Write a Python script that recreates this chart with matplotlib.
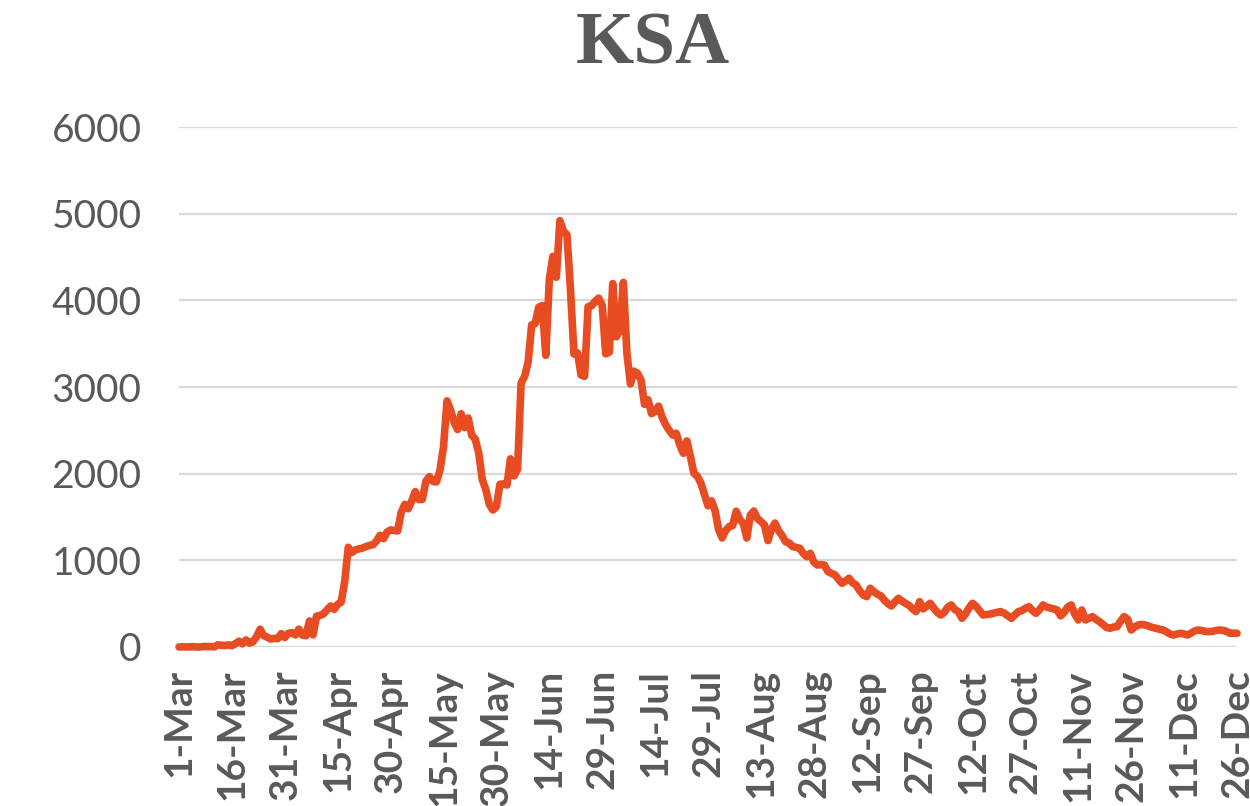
import pandas as pd
import matplotlib
matplotlib.use('Agg')
import matplotlib.pyplot as plt

# daily new cases, 1-Mar to 26-Dec
mar = [0, 1, 0, 0, 4, 0, 0, 6, 4, 5, 1, 24, 20, 17, 24, 15, 38, 67, 36, 81,
       45, 62, 119, 205, 133, 112, 92, 99, 96, 154, 110]
apr = [157, 165, 140, 206, 138, 130, 300, 140, 355, 364, 382, 429, 472, 435, 493,
       518, 762, 1150, 1090, 1120, 1132, 1141, 1158, 1172, 1180, 1223, 1289, 1250, 1325, 1351]
may = [1344, 1340, 1552, 1645, 1595, 1687, 1793, 1701, 1704, 1912, 1966, 1911, 1905, 2039,
       2307, 2840, 2736, 2593, 2509, 2691, 2532, 2642, 2442, 2399, 2235, 1931, 1815, 1644,
       1581, 1618, 1877]
jun = [1881, 1869, 2171, 1975, 2050, 3045, 3121, 3288, 3717, 3733, 3921, 3940, 3366, 4233,
       4507, 4267, 4919, 4800, 4757, 4128, 3379, 3393, 3139, 3123, 3927, 3938, 3989, 4026,
       3943, 3383]
jul = [3402, 4193, 3580, 3650, 4207, 3392, 3036, 3183, 3159, 3081, 2800, 2852, 2692, 2720,
       2779, 2650, 2565, 2500, 2446, 2466, 2331, 2235, 2378, 2201, 2005, 1968, 1889, 1759,
       1629, 1686, 1573]
aug = [1357, 1258, 1342, 1389, 1402, 1567, 1469, 1428, 1257, 1521, 1569, 1482, 1448, 1409,
       1227, 1363, 1430, 1342, 1287, 1215, 1200, 1158, 1150, 1139, 1080, 1042, 1081, 980,
       946, 950, 946]
sep = [870, 850, 831, 780, 735, 760, 793, 740, 716, 650, 600, 581, 677, 640, 610, 590, 540,
       500, 473, 520, 562, 530, 504, 480, 440, 408, 523, 440, 470, 504]
oct = [450, 400, 369, 400, 460, 485, 430, 408, 331, 380, 450, 504, 470, 420, 369, 375, 380,
       390, 400, 408, 390, 360, 331, 370, 408, 420, 446, 465, 420, 389, 430]
nov = [485, 460, 450, 440, 427, 360, 400, 460, 485, 380, 312, 427, 312, 330, 350, 320, 292,
       260, 225, 216, 230, 234, 300, 350, 320, 196, 230, 254, 260, 254]
dec = [240, 225, 216, 205, 196, 175, 150, 138, 150, 158, 150, 138, 160, 185, 196, 190, 180,
       177, 180, 190, 196, 192, 180, 158, 160, 158]

cases = mar + apr + may + jun + jul + aug + sep + oct + nov + dec
dates = pd.date_range('2020-03-01', periods=len(cases), freq='D')
tick_dates = dates[::15]
tick_labels = [f'{d.day}-{d.strftime("%b")}' for d in tick_dates]
y_ticks = [0, 1000, 2000, 3000, 4000, 5000, 6000]

GREY = '#595959'
LINE = '#E84C22'

fig = plt.figure(figsize=(12.5, 8.06), dpi=100)
ax = fig.add_axes([0.1432, 0.1973, 0.8464, 0.6451])

days = list(range(len(cases)))
ax.plot(days, cases, color=LINE, lw=5.5, solid_joinstyle='round', solid_capstyle='round',
        clip_on=False, zorder=3)

ax.set_xlim(0, len(cases) - 1)
ax.set_ylim(0, 6000)
ax.set_yticks(y_ticks)
ax.set_yticklabels([str(v) for v in y_ticks], fontfamily='Lato', fontsize=28, color=GREY)
ax.set_xticks([dates.get_loc(d) for d in tick_dates])
ax.set_xticklabels(tick_labels, rotation=90, fontfamily='Lato', fontweight='bold',
                   fontsize=28, color=GREY)
ax.tick_params(axis='y', length=0, pad=27)
ax.tick_params(axis='x', length=0, pad=16)
ax.grid(axis='y', color='#D9D9D9', lw=1.6)
ax.set_axisbelow(True)
for s in ax.spines.values():
    s.set_visible(False)

fig.text(0.522, 0.944, 'KSA', ha='center', va='center', fontfamily='Liberation Serif',
         fontweight='bold', fontsize=54, color=GREY)

fig.savefig('out.png', dpi=100)
